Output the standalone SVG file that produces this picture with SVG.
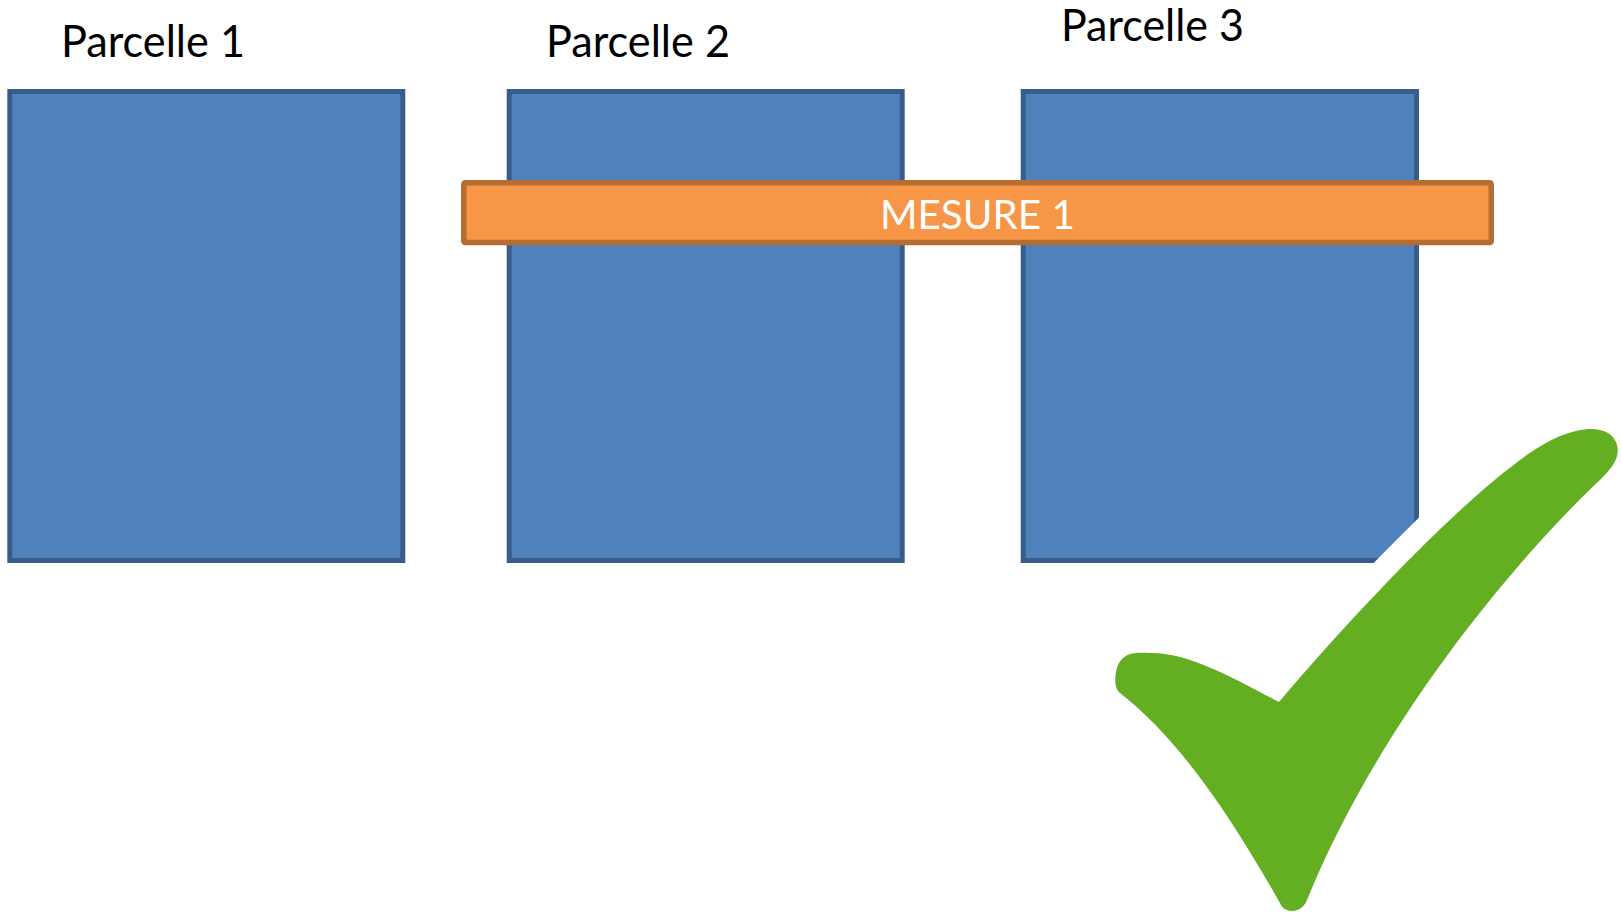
<svg xmlns="http://www.w3.org/2000/svg" width="1622" height="912" viewBox="0 0 1622 912">
<style>
.parcel{fill:#4F81BD;stroke:#385D8A;stroke-width:5}
.lbl{font-family:Lato,"Liberation Sans",sans-serif;font-size:44px;fill:#000}
.mes{fill:#F79646;stroke:#B66D31;stroke-width:5.5}
.mtxt{font-family:Lato,"Liberation Sans",sans-serif;font-size:41px;fill:#fff}
.check{fill:#63AF21;stroke:#fff;stroke-width:46;stroke-linejoin:round;paint-order:stroke}
</style>
<rect width="1622" height="912" fill="#fff"/>
<g id="parcelle1">
<rect class="parcel" x="9.8" y="91.5" width="393" height="469"/>
<text class="lbl" x="61" y="57" textLength="184" lengthAdjust="spacingAndGlyphs">Parcelle 1</text>
</g>
<g id="parcelle2">
<rect class="parcel" x="509.2" y="91.5" width="393" height="469"/>
<text class="lbl" x="546" y="57" textLength="184" lengthAdjust="spacingAndGlyphs">Parcelle 2</text>
</g>
<g id="parcelle3">
<rect class="parcel" x="1023.2" y="91.5" width="393.3" height="469"/>
<text class="lbl" x="1061" y="40.5" textLength="183" lengthAdjust="spacingAndGlyphs">Parcelle 3</text>
</g>
<g id="mesure1">
<rect class="mes" x="463.75" y="182.75" width="1027.5" height="59.8" rx="1.5"/>
<text class="mtxt" x="977.5" y="228.5" text-anchor="middle" textLength="195" lengthAdjust="spacingAndGlyphs">MESURE 1</text>
</g>
<g id="check">
<path class="check" d="M1279,702 C1370,595 1500,460 1560,436 C1590,424 1610,428 1616,442 C1622,456 1612,468 1600,480 C1520,555 1380,720 1307,900 C1302,914 1284,914 1280,903 C1230,815 1180,740 1120,693 C1113,687 1115,672 1118,665 C1125,650 1140,653 1150,653 C1190,652 1240,682 1279,702 Z"/>
</g>
</svg>
